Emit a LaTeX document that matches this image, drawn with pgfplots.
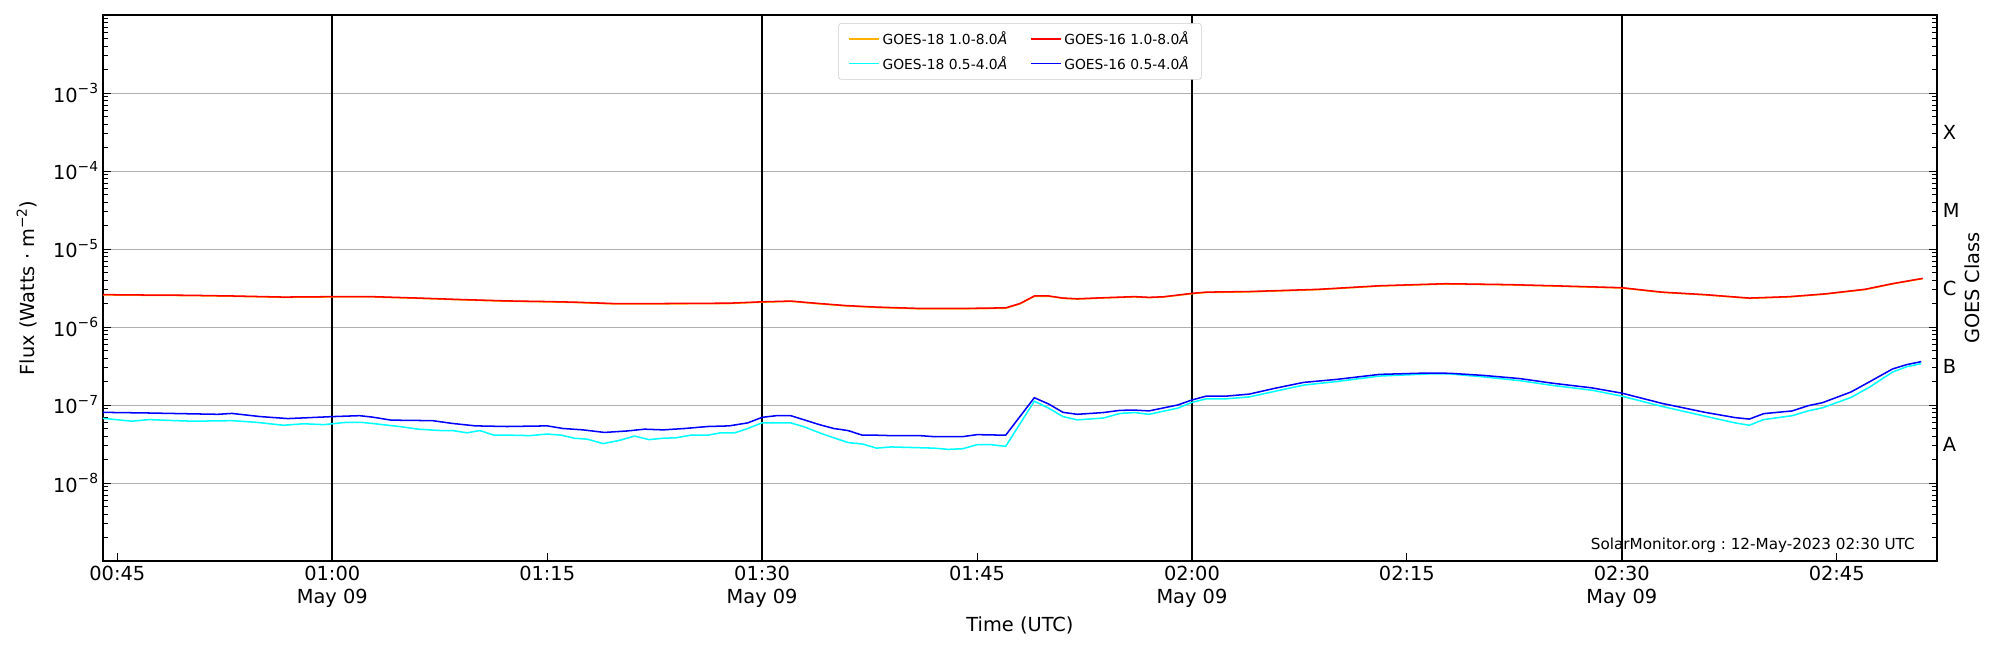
\documentclass[border=0pt]{standalone}
\usepackage{fontspec}
\setmainfont{DejaVu Sans}
\usepackage{pgfplots}
\pgfplotsset{compat=1.18}
\definecolor{goesorange}{HTML}{FFB000}
\definecolor{goescyan}{HTML}{00FFFF}
\definecolor{goesblue}{HTML}{0000FF}
\definecolor{goesred}{HTML}{FF0000}
\definecolor{gridgray}{HTML}{B0B0B0}
\newcommand{\tickfont}{\fontsize{14}{16.8}\selectfont}
\newcommand{\supx}[1]{\raisebox{0.42em}{\fontsize{10}{12}\selectfont #1}}
\frenchspacing
\begin{document}
\begin{tikzpicture}
\useasboundingbox (-1.03in,-0.89in) rectangle (18.97in,5.61in);
\begin{axis}[
  scale only axis, width=18.34in, height=5.46in,
  xmin=44, xmax=172, ymode=log, ymin=1e-9, ymax=1e-2,
  clip=false,
  xtick={45,60,75,90,105,120,135,150,165},
  xticklabels={00:45,{01:00\\May 09},01:15,{01:30\\May 09},01:45,{02:00\\May 09},02:15,{02:30\\May 09},02:45},
  ytick={1e-8,1e-7,1e-6,1e-5,1e-4,1e-3},
  yticklabels={10\supx{−8},10\supx{−7},10\supx{−6},10\supx{−5},10\supx{−4},10\supx{−3}},
  minor ytick={2e-9,3e-9,4e-9,5e-9,6e-9,7e-9,8e-9,9e-9,
    2e-8,3e-8,4e-8,5e-8,6e-8,7e-8,8e-8,9e-8,
    2e-7,3e-7,4e-7,5e-7,6e-7,7e-7,8e-7,9e-7,
    2e-6,3e-6,4e-6,5e-6,6e-6,7e-6,8e-6,9e-6,
    2e-5,3e-5,4e-5,5e-5,6e-5,7e-5,8e-5,9e-5,
    2e-4,3e-4,4e-4,5e-4,6e-4,7e-4,8e-4,9e-4,
    2e-3,3e-3,4e-3,5e-3,6e-3,7e-3,8e-3,9e-3},
  xticklabel style={align=center, font=\tickfont},
  yticklabel style={font=\tickfont},
  /pgf/number format/assume math mode=true,
  tick align=inside, xtick pos=bottom, ytick pos=both,
  major tick length=0.08in, minor tick length=0.05in,
  tick style={black, line width=0.6pt},
  axis line style={black, line width=0.8pt},
  ymajorgrids, major grid style={gridgray, line width=0.7pt},
  legend columns=2,
  legend cell align=left,
  legend image code/.code={\draw[#1] (0in,0in) -- (0.30in,0in);},
  legend style={at={(0.5,1)}, anchor=north, yshift=-0.08in,
    draw=black!20, rounded corners=2pt, fill=white,
    font=\fontsize{10}{12}\selectfont, inner xsep=7pt, inner ysep=4pt,
    row sep=3pt,
    /tikz/every even column/.append style={column sep=0.2in}},
]
\draw[black, line width=1.2pt] (axis cs:60,1e-9) -- (axis cs:60,1e-2);
\draw[black, line width=1.2pt] (axis cs:90,1e-9) -- (axis cs:90,1e-2);
\draw[black, line width=1.2pt] (axis cs:120,1e-9) -- (axis cs:120,1e-2);
\draw[black, line width=1.2pt] (axis cs:150,1e-9) -- (axis cs:150,1e-2);

% GOES-18 1.0-8.0 A
\addplot[goesorange, line width=1.1pt] coordinates {
(44,2.58e-6)(47,2.55e-6)(50,2.53e-6)(53,2.48e-6)(56.6,2.4e-6)(60,2.43e-6)(62.8,2.43e-6)(66,2.33e-6)(69,2.23e-6)(72.2,2.14e-6)(75,2.1e-6)(77,2.06e-6)(79.6,1.98e-6)(83,1.98e-6)(87.7,2.0e-6)(89.9,2.08e-6)(92,2.13e-6)(94,1.98e-6)(95.9,1.86e-6)(98,1.78e-6)(101,1.71e-6)(104,1.71e-6)(107,1.74e-6)(108,1.98e-6)(109,2.47e-6)(110,2.48e-6)(111,2.33e-6)(112,2.28e-6)(114,2.36e-6)(116,2.43e-6)(117,2.38e-6)(118,2.42e-6)(120,2.67e-6)(121,2.77e-6)(124,2.82e-6)(128.8,3.01e-6)(133.1,3.35e-6)(137.7,3.56e-6)(142,3.47e-6)(145.2,3.35e-6)(150,3.16e-6)(152.8,2.78e-6)(155.8,2.58e-6)(158.9,2.33e-6)(161.7,2.43e-6)(164.2,2.64e-6)(167,3.02e-6)(168.9,3.57e-6)(171,4.17e-6)
};
\addlegendentry{GOES-18 1.0-8.0\textit{Å}}
% GOES-16 1.0-8.0 A
\addplot[goesred, line width=1.1pt] coordinates {
(44,2.6e-6)(47,2.57e-6)(50,2.55e-6)(53,2.5e-6)(56.6,2.42e-6)(60,2.45e-6)(62.8,2.45e-6)(66,2.35e-6)(69,2.25e-6)(72.2,2.16e-6)(75,2.12e-6)(77,2.08e-6)(79.6,2.0e-6)(83,2.0e-6)(87.7,2.02e-6)(89.9,2.1e-6)(92,2.15e-6)(94,2.0e-6)(95.9,1.88e-6)(98,1.8e-6)(101,1.73e-6)(104,1.73e-6)(107,1.76e-6)(108,2.0e-6)(109,2.5e-6)(110,2.5e-6)(111,2.35e-6)(112,2.3e-6)(114,2.38e-6)(116,2.45e-6)(117,2.4e-6)(118,2.44e-6)(120,2.7e-6)(121,2.8e-6)(124,2.85e-6)(128.8,3.04e-6)(133.1,3.38e-6)(137.7,3.59e-6)(142,3.5e-6)(145.2,3.38e-6)(150,3.19e-6)(152.8,2.8e-6)(155.8,2.6e-6)(158.9,2.35e-6)(161.7,2.45e-6)(164.2,2.66e-6)(167,3.05e-6)(168.9,3.6e-6)(171,4.2e-6)
};
\addlegendentry{GOES-16 1.0-8.0\textit{Å}}
% GOES-18 0.5-4.0 A
\addplot[goescyan, line width=1.1pt] coordinates {
(44,6.75e-8)(46,6.2e-8)(47.2,6.5e-8)(49.1,6.3e-8)(50.3,6.2e-8)(53,6.3e-8)(54.7,6.0e-8)(56.6,5.5e-8)(58,5.75e-8)(59.4,5.6e-8)(61,6.0e-8)(62,6.0e-8)(62.8,5.8e-8)(64.7,5.3e-8)(66,4.9e-8)(67.6,4.7e-8)(68.4,4.7e-8)(69.4,4.4e-8)(70.3,4.7e-8)(71.3,4.1e-8)(72.5,4.1e-8)(73.8,4.05e-8)(75,4.25e-8)(76,4.1e-8)(76.9,3.75e-8)(77.8,3.65e-8)(78.9,3.2e-8)(80,3.5e-8)(81.1,4.0e-8)(82.1,3.6e-8)(83.1,3.75e-8)(84,3.8e-8)(85,4.1e-8)(86.2,4.1e-8)(87.1,4.4e-8)(88.1,4.4e-8)(89,5.0e-8)(90,5.9e-8)(92,5.9e-8)(93,5.2e-8)(94,4.4e-8)(95,3.8e-8)(96,3.3e-8)(97,3.16e-8)(98,2.8e-8)(99,2.9e-8)(100.5,2.85e-8)(102,2.8e-8)(103,2.7e-8)(104,2.75e-8)(105,3.1e-8)(106,3.1e-8)(107,2.95e-8)(109,1.12e-7)(110,9.1e-8)(111,7.1e-8)(112,6.45e-8)(113.8,6.8e-8)(115,7.8e-8)(116,8.0e-8)(117,7.6e-8)(119,9.1e-8)(120,1.08e-7)(121,1.2e-7)(122.4,1.2e-7)(124,1.27e-7)(125.8,1.5e-7)(127.8,1.8e-7)(130.1,2.0e-7)(133.1,2.35e-7)(136.4,2.5e-7)(138,2.5e-7)(140.3,2.3e-7)(142.9,2.05e-7)(145.2,1.78e-7)(147.9,1.55e-7)(150,1.3e-7)(152.8,9.6e-8)(155.8,7.2e-8)(157.9,5.9e-8)(158.9,5.5e-8)(159.9,6.5e-8)(161.9,7.3e-8)(163,8.4e-8)(164,9.2e-8)(166,1.25e-7)(167.3,1.7e-7)(168.9,2.65e-7)(169.9,3.1e-7)(170.9,3.4e-7)
};
\addlegendentry{GOES-18 0.5-4.0\textit{Å}}
% GOES-16 0.5-4.0 A
\addplot[goesblue, line width=1.1pt] coordinates {
(44,8.05e-8)(47.2,7.9e-8)(50.3,7.7e-8)(52,7.6e-8)(53,7.8e-8)(55,7.1e-8)(56.9,6.7e-8)(58.1,6.85e-8)(60,7.1e-8)(61.9,7.3e-8)(62.8,7.0e-8)(64.1,6.4e-8)(67,6.3e-8)(68.4,5.8e-8)(70,5.4e-8)(72.2,5.3e-8)(75,5.4e-8)(76.1,5.0e-8)(77.5,4.8e-8)(79,4.45e-8)(80.6,4.65e-8)(81.8,4.9e-8)(83.1,4.8e-8)(84.6,5.0e-8)(86.2,5.3e-8)(87.7,5.4e-8)(89,5.9e-8)(90,6.95e-8)(91,7.3e-8)(92,7.3e-8)(93,6.4e-8)(94,5.6e-8)(95,5.0e-8)(96,4.7e-8)(97,4.1e-8)(98,4.1e-8)(99,4.05e-8)(101,4.05e-8)(102,3.93e-8)(104,3.93e-8)(105,4.17e-8)(107,4.1e-8)(109,1.24e-7)(110,1.03e-7)(111,8.05e-8)(112,7.6e-8)(113.8,8.0e-8)(115,8.55e-8)(116,8.6e-8)(117,8.4e-8)(119,1.0e-7)(120,1.16e-7)(121,1.3e-7)(122.4,1.3e-7)(124,1.38e-7)(125.8,1.64e-7)(127.8,1.95e-7)(130.1,2.13e-7)(133.1,2.47e-7)(136.4,2.57e-7)(138,2.55e-7)(140.3,2.4e-7)(142.9,2.18e-7)(145.2,1.9e-7)(147.9,1.66e-7)(150,1.42e-7)(152.8,1.05e-7)(155.8,8.06e-8)(157.9,6.9e-8)(158.9,6.6e-8)(159.9,7.75e-8)(161.9,8.4e-8)(163,9.8e-8)(164,1.07e-7)(166,1.47e-7)(167.3,1.99e-7)(168.9,2.9e-7)(169.9,3.3e-7)(170.9,3.6e-7)
};
\addlegendentry{GOES-16 0.5-4.0\textit{Å}}

\node[anchor=west, inner sep=0pt, font=\tickfont] at ([xshift=0.055in]axis cs:172,3.162e-4) {X};
\node[anchor=west, inner sep=0pt, font=\tickfont] at ([xshift=0.055in]axis cs:172,3.162e-5) {M};
\node[anchor=west, inner sep=0pt, font=\tickfont] at ([xshift=0.055in]axis cs:172,3.162e-6) {C};
\node[anchor=west, inner sep=0pt, font=\tickfont] at ([xshift=0.055in]axis cs:172,3.162e-7) {B};
\node[anchor=west, inner sep=0pt, font=\tickfont] at ([xshift=0.055in]axis cs:172,3.162e-8) {A};
\node[rotate=90, inner sep=0pt, font=\tickfont] at ([xshift=0.35in]rel axis cs:1,0.5) {GOES Class};
\node[rotate=90, inner sep=0pt, font=\tickfont] at ([xshift=-0.76in]rel axis cs:0,0.5) {Flux (Watts · m\supx{−2})};
\node[anchor=base, inner sep=0pt, font=\tickfont] at ([yshift=-0.70in]rel axis cs:0.5,0) {Time (UTC)};
\node[anchor=base east, inner sep=0pt, font=\fontsize{11}{13.2}\selectfont] at ([xshift=-0.22in, yshift=0.117in]rel axis cs:1,0) {SolarMonitor.org : 12-May-2023 02:30 UTC};
\end{axis}
\end{tikzpicture}
\end{document}
